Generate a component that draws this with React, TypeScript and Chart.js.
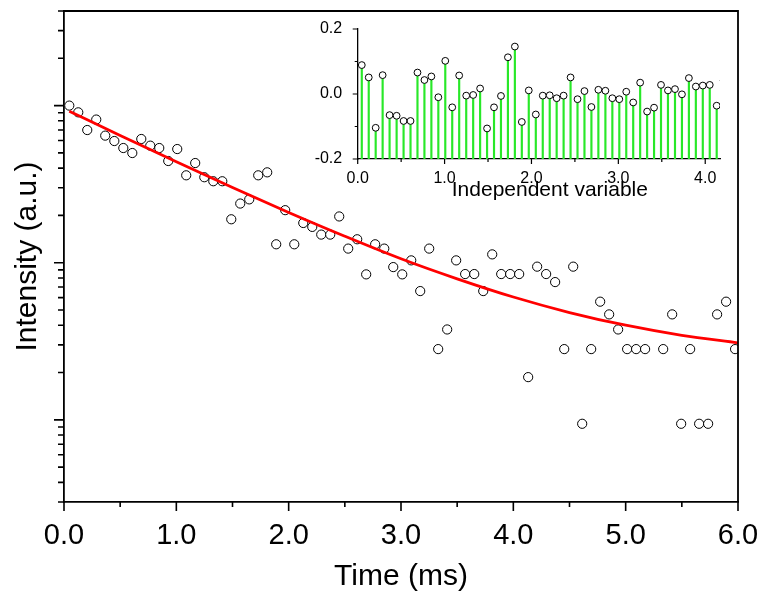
import React, { useEffect, useRef } from 'react';
import { Chart, registerables } from 'chart.js';

Chart.register(...registerables);

// ---------------- data ----------------
const TIME_MS = [
  0.047, 0.127, 0.207, 0.287, 0.367, 0.448, 0.528, 0.608, 0.688, 0.768,
  0.848, 0.928, 1.008, 1.088, 1.168, 1.249, 1.329, 1.409, 1.489, 1.569,
  1.649, 1.729, 1.809, 1.889, 1.969, 2.050, 2.130, 2.210, 2.290, 2.370,
  2.450, 2.530, 2.610, 2.690, 2.770, 2.851, 2.931, 3.011, 3.091, 3.171,
  3.251, 3.331, 3.411, 3.491, 3.571, 3.652, 3.732, 3.812, 3.892, 3.972,
  4.052, 4.132, 4.212, 4.292, 4.372, 4.453, 4.533, 4.613, 4.693, 4.773,
  4.853, 4.933, 5.013, 5.093, 5.173, 5.254, 5.334, 5.414, 5.494, 5.574,
  5.654, 5.734, 5.814, 5.894, 5.974,
];

const INTENSITY: (number | null)[] = [
  100, 90.6, 69.9, 81.5, 64.4, 59.5, 53.7, 49.9, 61.3, 55.6,
  53.7, 44.4, 52.9, 36.0, 43.1, 35.0, 33.0, 33.0, 18.9, 23.8,
  25.3, 36.0, 37.6, 13.1, 21.6, 13.1, 17.9, 16.9, 15.1, 15.1,
  19.7, 12.3, 14.1, 8.43, 13.1, 12.3, 9.38, 8.43, 10.35, 6.60,
  12.3, 2.82, 3.76, 10.35, 8.47, 8.47, 6.60, 11.3, 8.47, 8.47,
  8.47, 1.87, 9.44, 8.47, 7.53, 2.82, 9.44, 0.944, 2.82, 5.65,
  4.69, 3.76, 2.82, 2.82, 2.82, null, 2.82, 4.69, 0.944, 2.82,
  0.944, 0.944, 4.69, 5.65, 2.82,
];

const FIT_TIME = [0.047, 0.5, 1.0, 1.5, 2.0, 2.5, 3.0, 3.5, 4.0, 4.5, 5.0, 5.5, 6.0];
const FIT_INTENSITY = [92.0, 64.6, 43.9, 30.1, 20.9, 14.75, 10.6, 7.9, 6.05, 4.82, 4.0, 3.45, 3.09];

const RESIDUAL = [
  0.089, 0.051, -0.104, 0.058, -0.065, -0.067, -0.083, -0.083, 0.066, 0.043,
  0.054, -0.010, 0.102, -0.041, 0.057, -0.005, -0.003, 0.017, -0.106, -0.041,
  -0.006, 0.113, 0.146, -0.086, 0.011, -0.063, -0.005, -0.004, -0.013, -0.005,
  0.051, -0.016, 0.009, -0.040, 0.013, 0.010, -0.013, -0.016, 0.007, -0.026,
  0.035, -0.054, -0.042, 0.028, 0.011, 0.015, -0.001, 0.049, 0.023, 0.026,
  0.028, -0.036, 0.042,
];

const MAIN_X_TICKS = [0, 1, 2, 3, 4, 5, 6];
const MAIN_X_MINOR = [0.5, 1.5, 2.5, 3.5, 4.5, 5.5];
const MAIN_Y_MAJOR = [1, 10, 100];
const MAIN_Y_MINOR = [0.3, 0.4, 0.5, 0.6, 0.7, 0.8, 0.9, 2, 3, 4, 5, 6, 7, 8, 9,
  20, 30, 40, 50, 60, 70, 80, 90, 200, 300, 400];
const INSET_X_TICKS = [0, 1, 2, 3, 4];
const INSET_X_MINOR = [0.5, 1.5, 2.5, 3.5];
const INSET_Y_TICKS = [-0.2, 0, 0.2];
const INSET_Y_MINOR = [-0.1, 0.1];

const FONT = '"Liberation Sans", Arial, Helvetica, sans-serif';

// ---------------- plugin: tick marks, frame, extra title ----------------
const axisTicksPlugin = {
  id: 'axisTicks',
  afterDraw(chart: any, _args: any, opts: any) {
    const ctx = chart.ctx;
    const { left, right, top, bottom } = chart.chartArea;
    const xs = chart.scales.x;
    const ys = chart.scales.y;
    ctx.save();
    ctx.strokeStyle = '#000';
    ctx.lineWidth = opts.lineWidth;
    ctx.beginPath();
    const xt = (vals: number[], len: number) => {
      for (const v of vals) {
        const p = xs.getPixelForValue(v);
        ctx.moveTo(p, bottom);
        ctx.lineTo(p, bottom + len);
      }
    };
    const yt = (vals: number[], len: number) => {
      for (const v of vals) {
        const p = ys.getPixelForValue(v);
        ctx.moveTo(left, p);
        ctx.lineTo(left - len, p);
      }
    };
    xt(opts.xMajor, opts.xMajorLen);
    xt(opts.xMinor, opts.xMinorLen);
    yt(opts.yMajor, opts.yMajorLen);
    yt(opts.yMinor, opts.yMinorLen);
    ctx.stroke();
    if (opts.frame) {
      ctx.beginPath();
      ctx.lineWidth = opts.frameWidth;
      ctx.moveTo(left - 1, top);
      ctx.lineTo(right, top);
      ctx.lineTo(right, bottom);
      ctx.stroke();
    }
    if (opts.xTitle) {
      ctx.fillStyle = '#000';
      ctx.font = opts.xTitleFont;
      ctx.textAlign = 'center';
      ctx.textBaseline = 'middle';
      ctx.fillText(opts.xTitle, (left + right) / 2 + opts.xTitleShift, bottom + opts.xTitleGap);
    }
    ctx.restore();
  },
};

const zeroPad = (scale: any) => {
  scale.paddingLeft = 0;
  scale.paddingRight = 0;
  scale.paddingTop = 0;
  scale.paddingBottom = 0;
};

export default function App() {
  const mainRef = useRef<HTMLCanvasElement>(null);
  const insetRef = useRef<HTMLCanvasElement>(null);

  useEffect(() => {
    Chart.defaults.font.family = FONT;
    Chart.defaults.color = '#000';

    const points = TIME_MS.map((t, i) => ({ x: t, y: INTENSITY[i] })).filter((p) => p.y !== null);
    const fit = FIT_TIME.map((t, i) => ({ x: t, y: FIT_INTENSITY[i] }));

    const main = new Chart(mainRef.current!, {
      type: 'scatter',
      data: {
        datasets: [
          {
            label: 'fit',
            data: fit,
            showLine: true,
            borderColor: '#ff0000',
            borderWidth: 2.8,
            pointRadius: 0,
            cubicInterpolationMode: 'monotone',
          } as any,
          {
            label: 'data',
            data: points,
            pointRadius: 4.6,
            pointBorderWidth: 1,
            pointBackgroundColor: '#ffffff',
            pointBorderColor: '#000000',
          },
        ],
      },
      options: {
        responsive: false,
        animation: false,
        events: [],
        layout: { padding: { top: 11, right: 28, left: 0, bottom: 0 } },
        plugins: {
          legend: { display: false },
          tooltip: { enabled: false },
          axisTicks: {
            lineWidth: 1.6,
            frame: true,
            frameWidth: 1.8,
            xMajor: MAIN_X_TICKS,
            xMinor: MAIN_X_MINOR,
            xMajorLen: 9,
            xMinorLen: 5,
            yMajor: MAIN_Y_MAJOR,
            yMinor: MAIN_Y_MINOR,
            yMajorLen: 10,
            yMinorLen: 6,
          },
        } as any,
        scales: {
          x: {
            type: 'linear',
            min: 0,
            max: 6,
            afterBuildTicks: (s: any) => {
              s.ticks = MAIN_X_TICKS.map((v) => ({ value: v }));
            },
            afterFit: (s: any) => {
              s.height = 94;
              zeroPad(s);
            },
            ticks: {
              font: { size: 29 },
              color: '#000',
              padding: 9,
              maxRotation: 0,
              autoSkip: false,
              callback: (v: any) => Number(v).toFixed(1),
            },
            grid: { display: false },
            border: { display: true, color: '#000', width: 1.8 },
            title: {
              display: true,
              text: 'Time (ms)',
              font: { size: 30 },
              color: '#000',
              padding: { top: 0, bottom: 1 },
            },
          },
          y: {
            type: 'logarithmic',
            min: 0.3,
            max: 400,
            afterFit: (s: any) => {
              s.width = 64;
              zeroPad(s);
            },
            ticks: { display: false },
            grid: { display: false },
            border: { display: true, color: '#000', width: 1.8 },
            title: {
              display: true,
              text: 'Intensity (a.u.)',
              font: { size: 30 },
              color: '#000',
              padding: { top: 10, bottom: 0 },
            },
          },
        },
      } as any,
      plugins: [axisTicksPlugin],
    });

    const resPoints = RESIDUAL.map((r, i) => ({ x: TIME_MS[i], y: r }));

    const inset = new Chart(insetRef.current!, {
      type: 'bar',
      data: {
        datasets: [
          {
            type: 'line',
            label: 'residual',
            data: resPoints,
            showLine: false,
            pointRadius: 3.4,
            pointBorderWidth: 1,
            pointBackgroundColor: '#ffffff',
            pointBorderColor: '#000000',
            clip: { left: 6, top: 6, right: 0, bottom: 6 },
          } as any,
          {
            type: 'bar',
            label: 'stems',
            data: resPoints,
            base: -0.2,
            barThickness: 1.5,
            backgroundColor: 'rgb(40, 232, 40)',
            borderWidth: 0,
          } as any,
        ],
      },
      options: {
        responsive: false,
        animation: false,
        events: [],
        layout: { padding: { top: 14, right: 20, left: 0, bottom: 0 } },
        plugins: {
          legend: { display: false },
          tooltip: { enabled: false },
          axisTicks: {
            lineWidth: 1.2,
            frame: false,
            xMajor: INSET_X_TICKS,
            xMinor: INSET_X_MINOR,
            xMajorLen: 5,
            xMinorLen: 3,
            yMajor: INSET_Y_TICKS,
            yMinor: INSET_Y_MINOR,
            yMajorLen: 5,
            yMinorLen: 3,
            xTitle: 'Independent variable',
            xTitleFont: '21px ' + FONT,
            xTitleShift: 11,
            xTitleGap: 31,
          },
        } as any,
        scales: {
          x: {
            type: 'linear',
            min: 0,
            max: 4.17,
            offset: false,
            afterBuildTicks: (s: any) => {
              s.ticks = INSET_X_TICKS.map((v) => ({ value: v }));
            },
            afterFit: (s: any) => {
              s.height = 56;
              zeroPad(s);
            },
            ticks: {
              font: { size: 16 },
              color: '#000',
              padding: 2.4,
              maxRotation: 0,
              autoSkip: false,
              callback: (v: any) => Number(v).toFixed(1),
            },
            grid: { display: false, offset: false },
            border: { display: true, color: '#000', width: 1.3 },
          },
          y: {
            type: 'linear',
            min: -0.2,
            max: 0.2,
            afterBuildTicks: (s: any) => {
              s.ticks = INSET_Y_TICKS.map((v) => ({ value: v }));
            },
            afterFit: (s: any) => {
              s.width = 57.7;
              zeroPad(s);
            },
            ticks: {
              font: { size: 16 },
              color: '#000',
              padding: 7.5,
              callback: (v: any) => Number(v).toFixed(1),
            },
            grid: { display: false },
            border: { display: true, color: '#000', width: 1.3 },
          },
        },
      } as any,
      plugins: [axisTicksPlugin],
    });

    return () => {
      main.destroy();
      inset.destroy();
    };
  }, []);

  return (
    <div style={{ position: 'fixed', left: 0, top: 0, width: 766, height: 596, background: '#fff' }}>
      <canvas ref={mainRef} width={766} height={596} style={{ position: 'absolute', left: 0, top: 0 }} />
      <canvas ref={insetRef} width={440} height={200} style={{ position: 'absolute', left: 300, top: 15 }} />
    </div>
  );
}
